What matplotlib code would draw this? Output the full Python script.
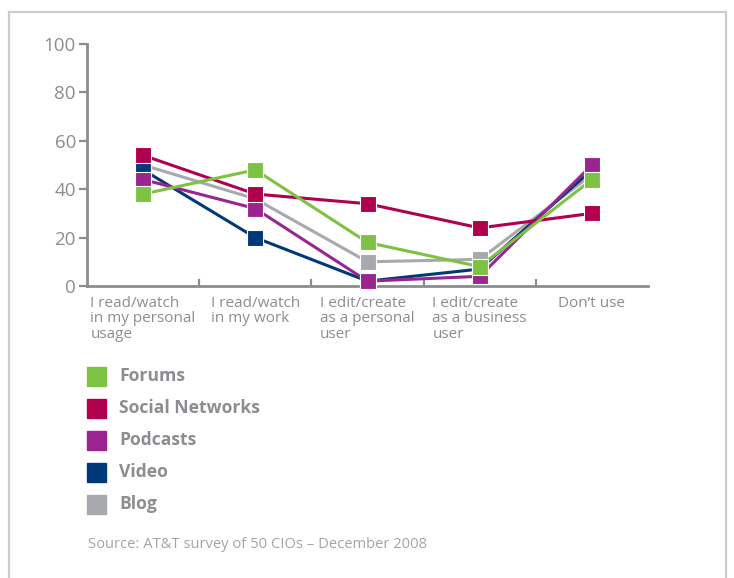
import matplotlib
matplotlib.use("Agg")
import matplotlib.pyplot as plt
from matplotlib.patches import Rectangle

plt.rcParams['font.family'] = ['Open Sans', 'DejaVu Sans']

categories = ["I read/watch\nin my personal\nusage", "I read/watch\nin my work",
              "I edit/create\nas a personal\nuser", "I edit/create\nas a business\nuser",
              "Don\u2019t use"]
series_names = ["Blog", "Video", "Podcasts", "Social Networks", "Forums"]
blog = [50, 36, 10, 11, 46]
video = [48, 20, 2, 7, 48]
podcasts = [44, 32, 2, 4, 50]
social = [54, 38, 34, 24, 30]
forums = [38, 48, 18, 8, 44]
legend_order = ["Forums", "Social Networks", "Podcasts", "Video", "Blog"]
colors = {"Forums": "#7dc243", "Social Networks": "#b0004e", "Podcasts": "#9a2590",
          "Video": "#00397a", "Blog": "#a8a9ad"}
yticks = [0, 20, 40, 60, 80, 100]
values = {"Blog": blog, "Video": video, "Podcasts": podcasts,
          "Social Networks": social, "Forums": forums}

W, H = 734, 578
fig = plt.figure(figsize=(W / 100, H / 100), dpi=100)

def fx(px):
    return px / W

def fy(py):
    return 1 - py / H

axis_col = "#8c8d90"
ax = fig.add_axes([fx(87), fy(286), fx(648) - fx(87), fy(44) - fy(286)])
x = list(range(len(categories)))
for name in series_names:
    ax.plot(x, values[name], color=colors[name], lw=2.2, marker='s', ms=11.5,
            mec='white', mew=0.8, clip_on=False, zorder=3)

ax.set_xlim(-0.5, len(categories) - 0.5)
ax.set_ylim(0, 100)
for s in ['top', 'right']:
    ax.spines[s].set_visible(False)
for s in ['left', 'bottom']:
    ax.spines[s].set_color(axis_col)
    ax.spines[s].set_linewidth(2)
ax.set_yticks(yticks)
ax.set_yticklabels([str(v) for v in yticks], fontsize=13.5, color=axis_col)
ax.tick_params(axis='y', length=6, width=1.6, color=axis_col, pad=2)
ax.set_xticks([i + 0.5 for i in range(len(categories) - 1)])
ax.set_xticklabels([])
ax.tick_params(axis='x', direction='in', length=5, width=1.6, color=axis_col)
for i, lab in enumerate(categories):
    ax.text(i, -4.0, lab, ha='center', va='top', multialignment='left',
            fontsize=11, color=axis_col, linespacing=1.06)

# legend
for i, name in enumerate(legend_order):
    yc = 376 + i * 32
    fig.patches.append(Rectangle((fx(87), fy(yc + 9.5)), fx(19), 19 / H,
                                 transform=fig.transFigure, color=colors[name]))
    fig.text(fx(119), fy(yc), name, fontsize=12.6, fontweight='bold',
             color=axis_col, va='center', ha='left')

fig.text(fx(88), fy(545), "Source: AT&T survey of 50 CIOs \u2013 December 2008",
         fontsize=10.6, color="#a3a4a7", va='center', ha='left')

# border frame
fig.patches.append(Rectangle((fx(9), -0.05), fx(726) - fx(9), fy(12) + 0.05,
                             transform=fig.transFigure, fill=False,
                             edgecolor="#cacbcd", lw=1.6))

fig.savefig("out.png", dpi=100)
